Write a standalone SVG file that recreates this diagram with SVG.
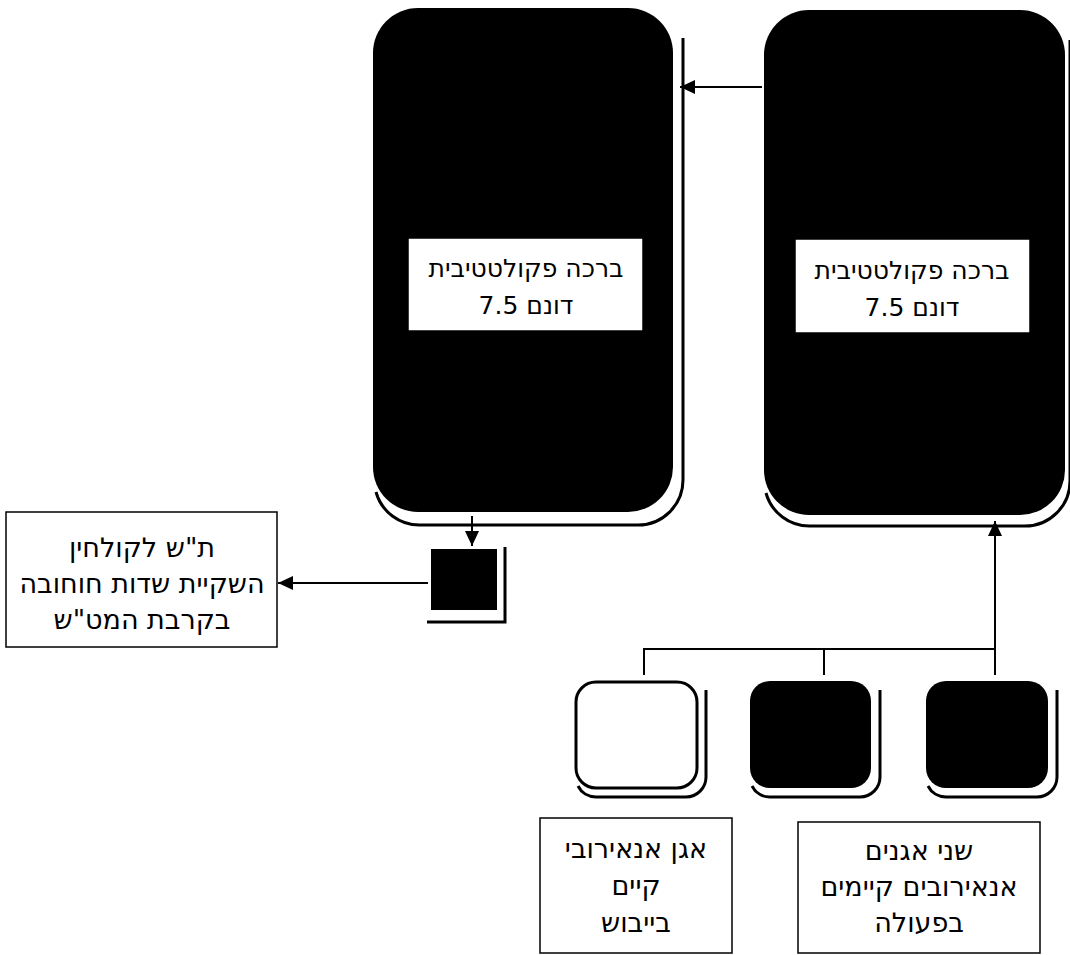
<svg xmlns="http://www.w3.org/2000/svg" width="1070" height="955" viewBox="0 0 1070 955">
<style>
.shadow{fill:none;stroke:#000;stroke-width:3}
.blk{fill:#000}
.wht{fill:#fff;stroke:#000;stroke-width:3}
.lbl{fill:#fff;stroke:#000;stroke-width:1.5}
.line{fill:none;stroke:#000;stroke-width:2}
.serif{font-family:"DejaVu Sans",sans-serif;font-size:25px;fill:#000;text-anchor:middle}
.sans{font-family:"DejaVu Sans",sans-serif;font-size:27px;fill:#000;text-anchor:middle}
</style>
<defs>
<marker id="ah" markerUnits="userSpaceOnUse" markerWidth="16" markerHeight="14" refX="15" refY="7" orient="auto">
<path d="M0,0 L15,7 L0,14 Z" fill="#000"/>
</marker>
</defs>
<rect width="1070" height="955" fill="#fff"/>

<g id="pond-left">
<path class="shadow" d="M683,38 V480 A45,45 0 0 1 638,525 H420 A45,45 0 0 1 376,492"/>
<rect class="blk" x="373" y="8" width="300" height="504" rx="45"/>
<rect class="lbl" x="408" y="238" width="235" height="93"/>
<text class="serif" x="526" y="277">ברכה פקולטטיבית</text>
<text class="serif" x="526" y="314">7.5 דונם</text>
</g>

<g id="pond-right">
<path class="shadow" d="M1070,40 V481 A45,45 0 0 1 1025,526 H810 A45,45 0 0 1 766,493"/>
<rect class="blk" x="764" y="10" width="301" height="505" rx="45"/>
<rect class="lbl" x="795" y="239" width="235" height="94"/>
<text class="serif" x="912" y="279">ברכה פקולטטיבית</text>
<text class="serif" x="912" y="316">7.5 דונם</text>
</g>

<g id="pump">
<path class="shadow" d="M505,547 V622 H427"/>
<rect class="blk" x="431" y="549" width="66" height="61"/>
</g>

<g id="outlet-box">
<rect class="lbl" x="6" y="512" width="271" height="135"/>
<text class="sans" x="142" y="557">ת"ש לקולחין</text>
<text class="sans" x="142" y="593">השקיית שדות חוחובה</text>
<text class="sans" x="142" y="629">בקרבת המט"ש</text>
</g>

<g id="basin-a">
<path class="shadow" d="M706,690 V777 A20,20 0 0 1 686,797 H596 A20,20 0 0 1 578,786"/>
<rect class="wht" x="576" y="682" width="121" height="106" rx="20"/>
</g>
<g id="basin-b">
<path class="shadow" d="M880,690 V777 A20,20 0 0 1 860,797 H770 A20,20 0 0 1 752,786"/>
<rect class="blk" x="750" y="681" width="121" height="107" rx="20"/>
</g>
<g id="basin-c">
<path class="shadow" d="M1057,690 V777 A20,20 0 0 1 1037,797 H946 A20,20 0 0 1 928,786"/>
<rect class="blk" x="926" y="681" width="122" height="107" rx="20"/>
</g>

<g id="label-a">
<rect class="lbl" x="540" y="818" width="192" height="135"/>
<text class="sans" x="636" y="858">אגן אנאירובי</text>
<text class="sans" x="636" y="895">קיים</text>
<text class="sans" x="636" y="932">בייבוש</text>
</g>
<g id="label-bc">
<rect class="lbl" x="798" y="822" width="242" height="131"/>
<text class="sans" x="919" y="860">שני אגנים</text>
<text class="sans" x="919" y="896">אנאירובים קיימים</text>
<text class="sans" x="919" y="932">בפעולה</text>
</g>

<g id="connectors">
<line class="line" x1="762" y1="87" x2="680" y2="87" marker-end="url(#ah)"/>
<line class="line" x1="472" y1="516" x2="472" y2="546" marker-end="url(#ah)"/>
<line class="line" x1="428" y1="583" x2="278" y2="583" marker-end="url(#ah)"/>
<path class="line" d="M644,675 V649 H995"/>
<line class="line" x1="824" y1="649" x2="824" y2="675"/>
<line class="line" x1="995" y1="675" x2="995" y2="521" marker-end="url(#ah)"/>
</g>
</svg>
